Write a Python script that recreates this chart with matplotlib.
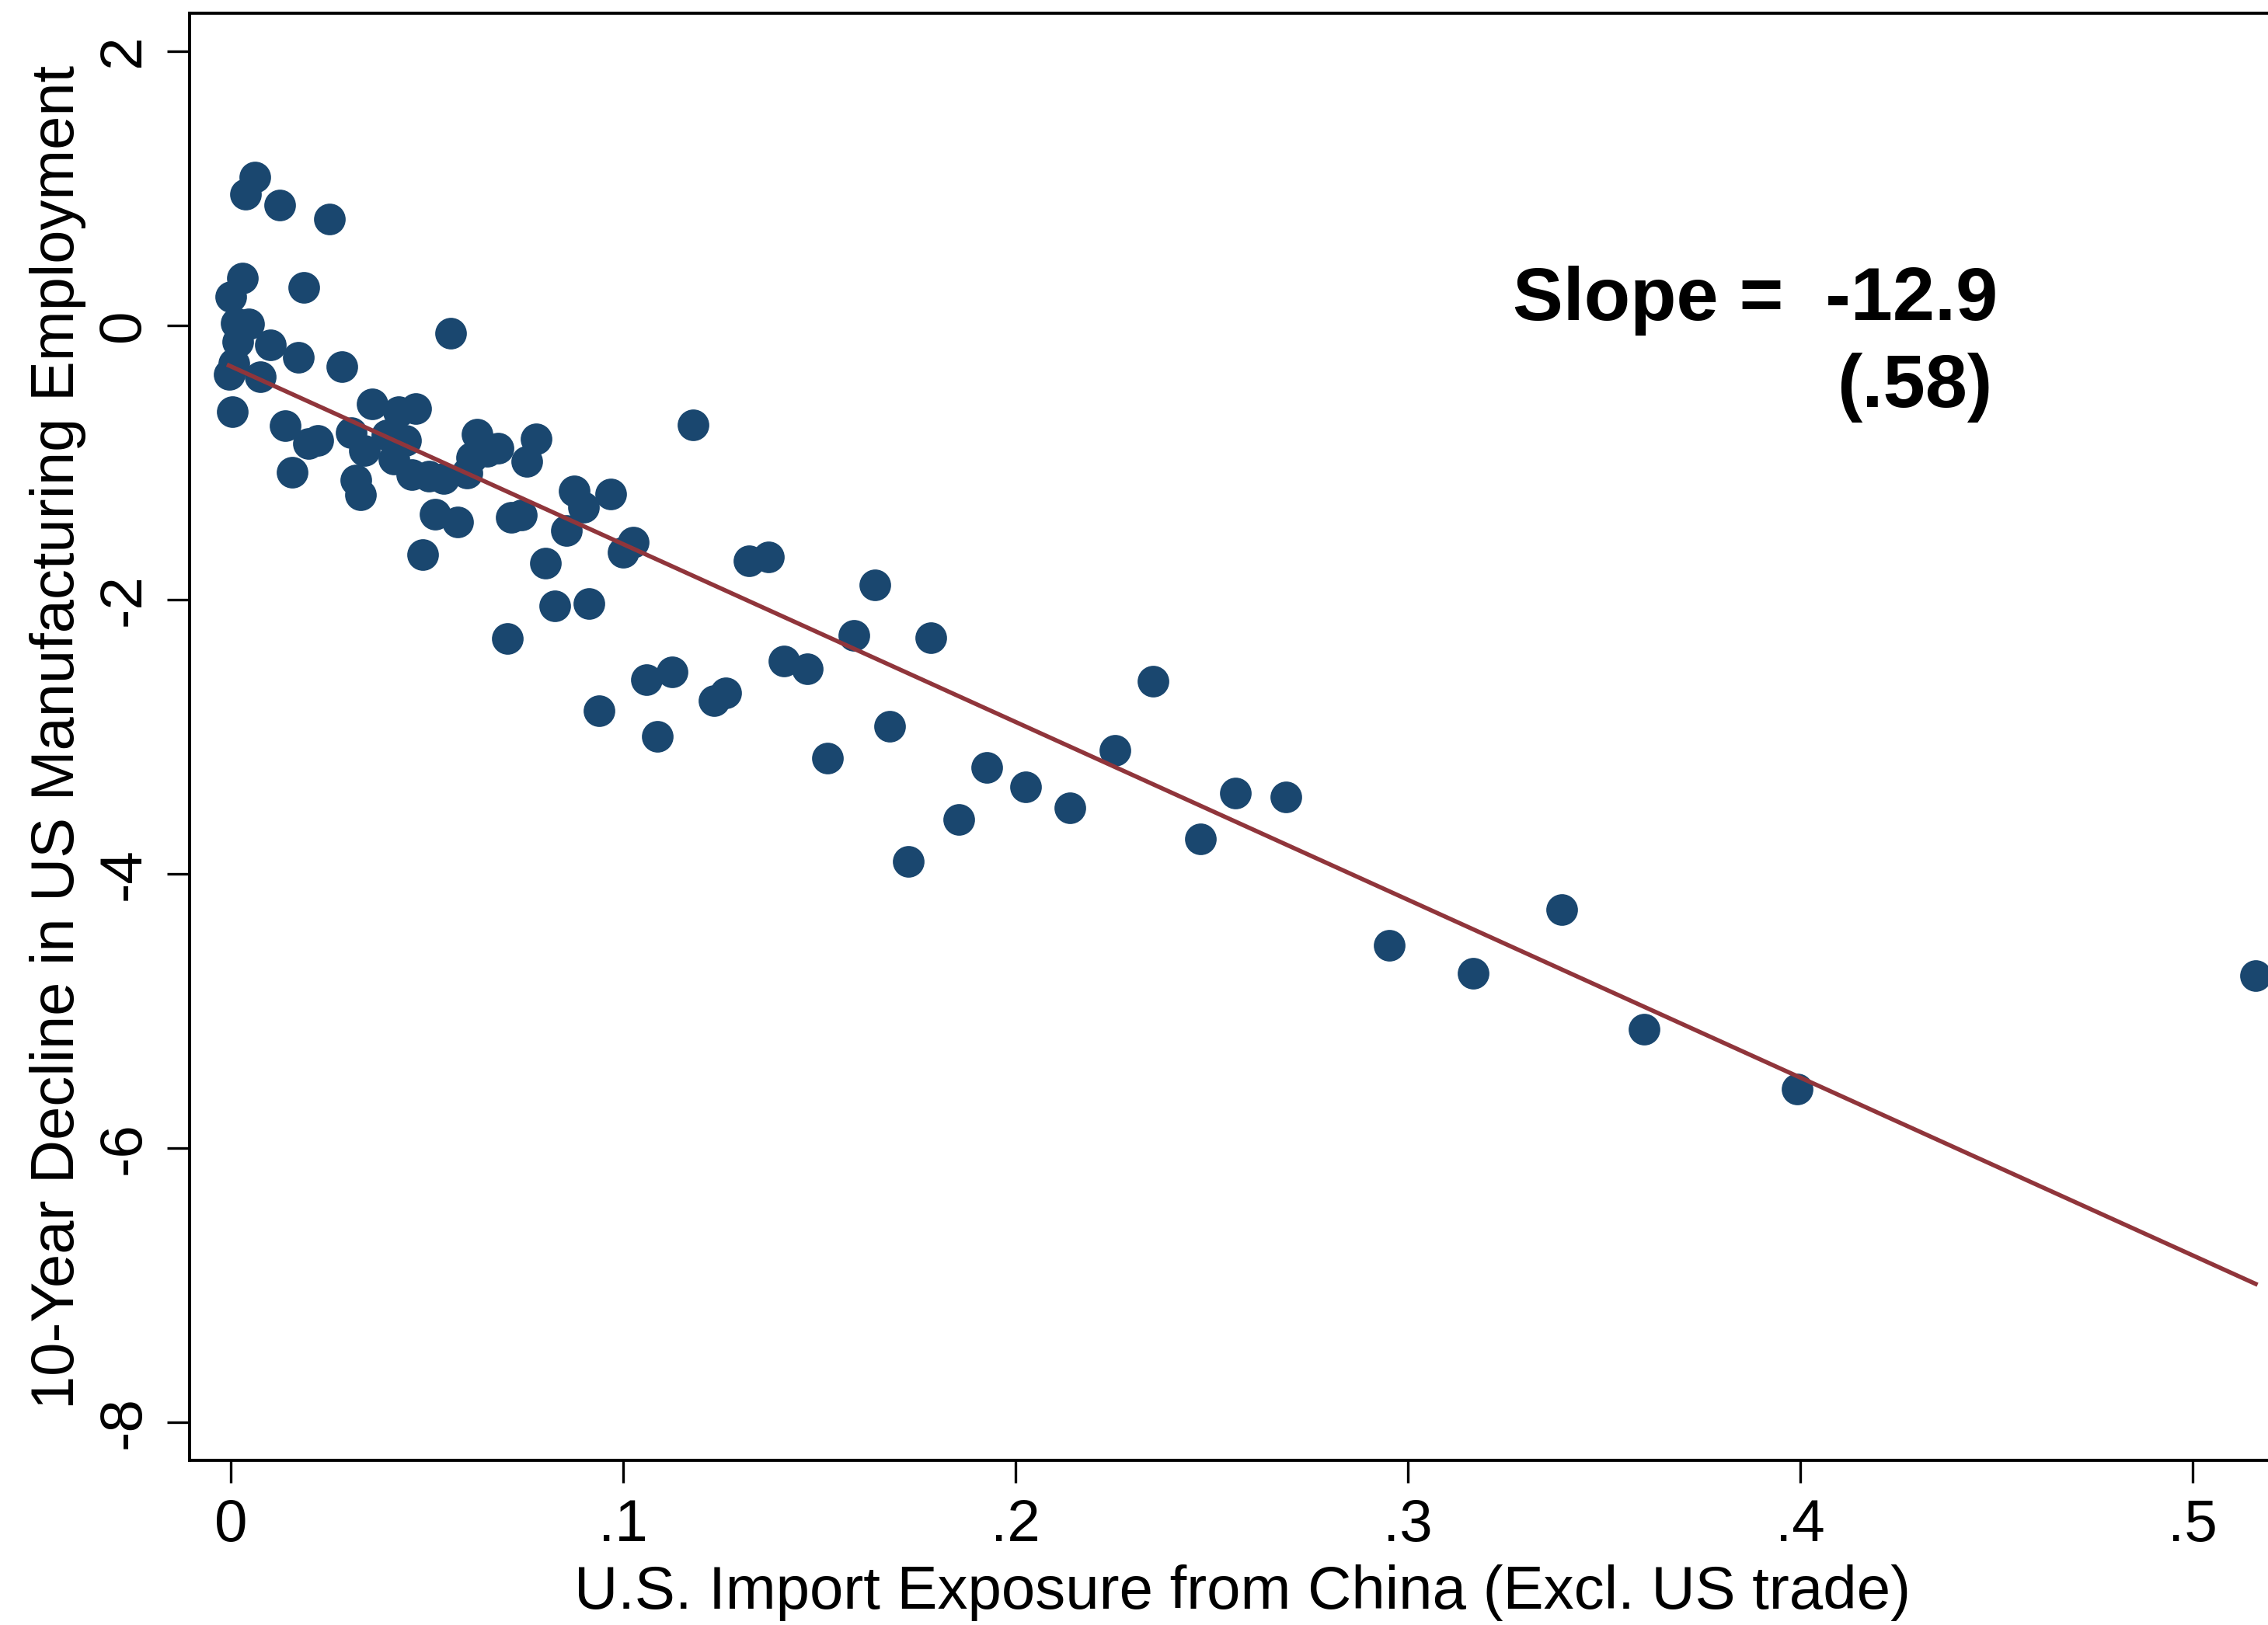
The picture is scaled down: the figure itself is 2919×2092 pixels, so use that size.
import numpy as np
import matplotlib
matplotlib.use("Agg")
import matplotlib.pyplot as plt

# Data
exposure = [
    0.0062, 0.0038, 0.0124, 0.0252, 0.0030, 0.0000, 0.0186, 0.0013, 0.0046, 0.0017,
    0.0100, 0.0172, 0.0007, -0.0005, 0.0075, 0.0283, 0.0561, 0.0004, 0.0360, 0.0428,
    0.0471, 0.0139, 0.0221, 0.0197, 0.0156, 0.0307, 0.0340, 0.0398, 0.0446, 0.0415,
    0.0462, 0.0504, 0.0542, 0.0601, 0.0627, 0.0614, 0.0654, 0.0682, 0.0778, 0.0754,
    0.0319, 0.0330, 0.0520, 0.0579, 0.0488, 0.0715, 0.0740, 0.0875, 0.0899, 0.0968,
    0.0855, 0.1025, 0.1000, 0.0802, 0.0825, 0.0913, 0.0704, 0.1178, 0.1060, 0.1125,
    0.1086, 0.0939, 0.1320, 0.1371, 0.1641, 0.1587, 0.1784, 0.1231, 0.1261, 0.1409,
    0.1470, 0.1521, 0.1679, 0.1727, 0.1856, 0.1926, 0.2026, 0.2139, 0.2254, 0.2350,
    0.2471, 0.2560, 0.2688, 0.2953, 0.3166, 0.3391, 0.3601, 0.3991, 0.5160,
]
decline = [
    1.078, 0.954, 0.875, 0.774, 0.341, 0.207, 0.278, 0.017, 0.010, -0.122,
    -0.142, -0.236, -0.282, -0.357, -0.378, -0.302, -0.059, -0.633, -0.573, -0.628,
    -0.610, -0.735, -0.838, -0.864, -1.074, -0.782, -0.914, -0.800, -0.838, -0.977,
    -1.091, -1.099, -1.117, -1.079, -0.795, -0.965, -0.922, -0.896, -0.831, -0.993,
    -1.129, -1.236, -1.377, -1.433, -1.676, -1.400, -1.385, -1.210, -1.327, -1.231,
    -1.499, -1.585, -1.656, -1.737, -2.045, -2.030, -2.283, -0.729, -2.584, -2.529,
    -3.000, -2.810, -1.716, -1.693, -1.896, -2.265, -2.280, -2.736, -2.683, -2.452,
    -2.508, -3.156, -2.923, -3.910, -3.607, -3.227, -3.369, -3.518, -3.103, -2.596,
    -3.748, -3.414, -3.439, -4.525, -4.726, -4.262, -5.137, -5.570, -4.745,
]
fit_intercept = -0.30
fit_slope = -12.97

x_ticks = [0, 0.1, 0.2, 0.3, 0.4, 0.5]
x_ticklabels = ["0", ".1", ".2", ".3", ".4", ".5"]
y_ticks = [2, 0, -2, -4, -6, -8]
y_ticklabels = ["2", "0", "-2", "-4", "-6", "-8"]

navy = "#1a476f"
maroon = "#90353b"

plt.rcParams["font.family"] = ["Liberation Sans", "DejaVu Sans"]

fig = plt.figure(figsize=(14.595, 10.46), dpi=200)
ax = fig.add_axes([0.0836, 0.1013, 0.9284, 0.8906])

x = np.array(exposure)
y = np.array(decline)
ax.scatter(x, y, s=215, color=navy, linewidths=0, zorder=2)

xs = np.array([x.min(), x.max()])
ax.plot(xs, fit_intercept + fit_slope * xs, color=maroon, linewidth=2.0, zorder=3)

ax.set_xlim(-0.0105, 0.5261)
ax.set_ylim(-8.28, 2.276)

## ticks and labels
ax.set_xticks(x_ticks)
ax.set_xticklabels(x_ticklabels)
ax.set_yticks(y_ticks)
ax.set_yticklabels(y_ticklabels)
ax.tick_params(axis="both", direction="out", length=10.5, width=1.2, labelsize=27.5)
ax.tick_params(axis="x", pad=7)
ax.tick_params(axis="y", pad=7)
for lab in ax.get_yticklabels():
    lab.set_rotation(90)
    lab.set_va("center")

for side in ["left", "bottom", "top", "right"]:
    ax.spines[side].set_linewidth(1.4)

ax.set_xlabel("U.S. Import Exposure from China (Excl. US trade)", fontsize=28.1, labelpad=5)
ax.set_ylabel("10-Year Decline in US Manufacturing Employment", fontsize=28, labelpad=5)

## slope annotation
ax.text(0.4503, 0.040, "Slope =  -12.9", fontsize=35, fontweight="bold",
        ha="right", va="baseline")
ax.text(0.4490, -0.595, "(.58)", fontsize=35, fontweight="bold",
        ha="right", va="baseline")

fig.savefig("out.png", dpi=200)
